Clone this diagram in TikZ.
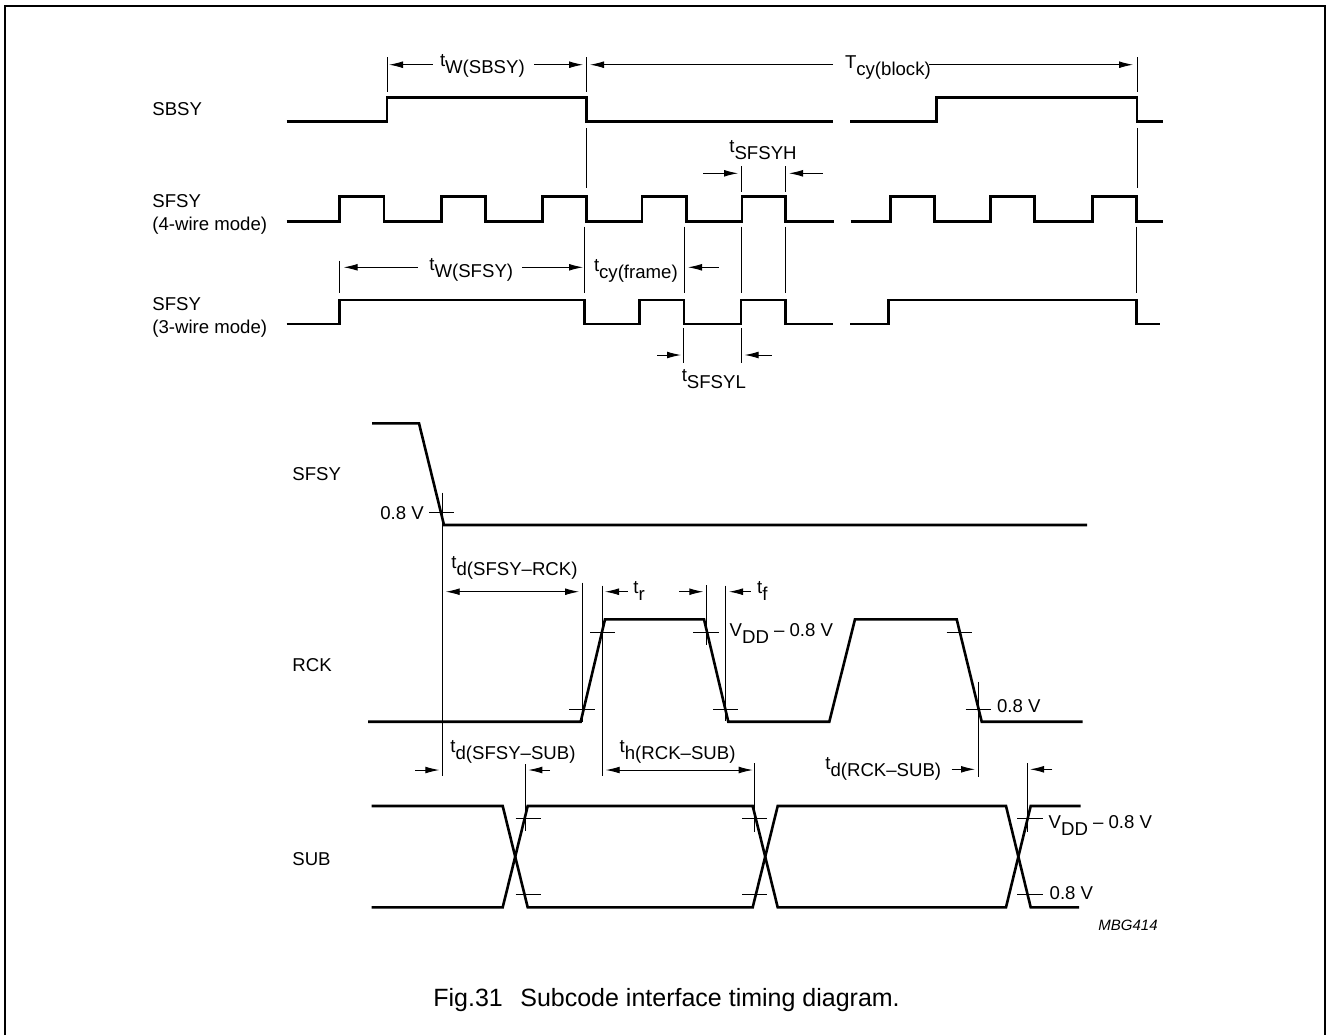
\documentclass[tikz,border=0pt]{standalone}
\usepackage{fontspec}
\setmainfont{Liberation Sans}
\usetikzlibrary{arrows.meta}
\tikzstyle{signal}=[line width=1.3pt,line join=miter]
\tikzstyle{tick}=[line width=0.45pt]
\tikzstyle{dim}=[line width=0.45pt,-{Latex[length=7pt,width=3.4pt]}]
\tikzstyle{dimboth}=[line width=0.45pt,{Latex[length=7pt,width=3.4pt]}-{Latex[length=7pt,width=3.4pt]}]
\tikzstyle{lbl}=[anchor=base west,inner sep=0pt,font=\fontsize{9.3}{10.5}\selectfont]
\newcommand{\tsub}[2]{#1\raisebox{-3.5pt}{#2}}

\begin{document}
\begin{tikzpicture}[x=0.5pt,y=-0.5pt]
\useasboundingbox (0,0) rectangle (1328,1035);
\draw[line width=1pt] (5,1035) -- (5,5.5) -- (1325,5.5) -- (1325,1035);

\node[lbl] at (152,115) (lsbsy) {SBSY};
\node[lbl] at (152,207) (lsfsya) {SFSY};
\node[lbl] at (152,230) (lfoura) {(4-wire mode)};
\node[lbl] at (152,310) (lsfsyb) {SFSY};
\node[lbl] at (152,333) (lthree) {(3-wire mode)};
\node[lbl] at (292,480) (lsfsyc) {SFSY};
\node[lbl] at (292,671) (lrck) {RCK};
\node[lbl] at (292,865) (lsub) {SUB};

\draw[signal] (286.5,121.7) -- (387,121.7) -- (387,97.7) -- (586.4,97.7) -- (586.4,121.7) -- (833,121.7);
\draw[signal] (850,121.7) -- (936.4,121.7) -- (936.4,97.7) -- (1137,97.7) -- (1137,121.7) -- (1162.5,121.7);
\draw[signal] (286.5,221.7) -- (339.6,221.7) -- (339.6,196.7) -- (384,196.7) -- (384,221.7) -- (441.4,221.7) -- (441.4,196.7) -- (485.4,196.7) -- (485.4,221.7) -- (542.5,221.7) -- (542.5,196.7) -- (586.4,196.7) -- (586.4,221.7) -- (641.8,221.7) -- (641.8,196.7) -- (686.4,196.7) -- (686.4,221.7) -- (741.8,221.7) -- (741.8,196.7) -- (785.7,196.7) -- (785.7,221.7) -- (833.6,221.7);
\draw[signal] (850.7,221.7) -- (890.7,221.7) -- (890.7,196.7) -- (934.6,196.7) -- (934.6,221.7) -- (990.7,221.7) -- (990.7,196.7) -- (1034.6,196.7) -- (1034.6,221.7) -- (1092.5,221.7) -- (1092.5,196.7) -- (1136.4,196.7) -- (1136.4,221.7) -- (1163,221.7);
\draw[signal] (286.5,324) -- (339.6,324) -- (339.6,300) -- (584.6,300) -- (584.6,324) -- (639.6,324) -- (639.6,300) -- (684,300) -- (684,324) -- (741,324) -- (741,300) -- (785.4,300) -- (785.4,324) -- (832.9,324);
\draw[signal] (850,324) -- (888.2,324) -- (888.2,300) -- (1136.4,300) -- (1136.4,324) -- (1160.4,324);
\draw[signal] (372,423.3) -- (419,423.3) -- (444,525) -- (1087,525);
\draw[signal] (368,721.7) -- (580.7,721.7) -- (605,619.3) -- (704,619.3) -- (728.3,721.7) -- (829.3,721.7) -- (855,619.3) -- (956.7,619.3) -- (981.7,721.7) -- (1082.7,721.7);
\draw[signal] (371.7,806) -- (502.7,806) -- (527.7,907.3) -- (752.7,907.3) -- (777.7,806) -- (1006,806) -- (1030.7,907.3) -- (1079,907.3);
\draw[signal] (371.7,907.3) -- (502.7,907.3) -- (527.7,806) -- (752.7,806) -- (777.7,907.3) -- (1006,907.3) -- (1030.7,806) -- (1080.7,806);

\draw[tick] (387,57.3) -- (387,91.7);
\draw[tick] (586.4,57.3) -- (586.4,91.7);
\draw[tick] (586.4,128) -- (586.4,188);
\draw[tick] (1137,57.3) -- (1137,91.7);
\draw[tick] (1137,128) -- (1137,188);
\draw[tick] (741.8,166) -- (741.8,192);
\draw[tick] (785.7,166) -- (785.7,192);
\draw[tick] (584.6,226.7) -- (584.6,293.3);
\draw[tick] (684.6,226.7) -- (684.6,293.3);
\draw[tick] (741,226.7) -- (741,293.3);
\draw[tick] (785.7,226.7) -- (785.7,293.3);
\draw[tick] (1136.4,226.7) -- (1136.4,293.3);
\draw[tick] (339.6,260.7) -- (339.6,293.3);
\draw[tick] (683.2,328) -- (683.2,363);
\draw[tick] (741,328) -- (741,363);
\draw[tick] (442,492.7) -- (442,776);
\draw[tick] (429,512.3) -- (454,512.3);
\draw[tick] (582.3,582.7) -- (582.3,721.7);
\draw[tick] (602.3,585.7) -- (602.3,776);
\draw[tick] (706,585) -- (706,645);
\draw[tick] (725.7,585.7) -- (725.7,721);
\draw[tick] (590,632.3) -- (615,632.3);
\draw[tick] (693.3,632.3) -- (719,632.3);
\draw[tick] (946.7,632.3) -- (972,632.3);
\draw[tick] (569.3,709) -- (595,709);
\draw[tick] (713.3,709) -- (738.3,709);
\draw[tick] (965.7,709) -- (990.7,709);
\draw[tick] (978.3,681.7) -- (978.3,777.3);
\draw[tick] (525.7,764) -- (525.7,830.7);
\draw[tick] (754.3,763.3) -- (754.3,831.7);
\draw[tick] (1027.7,763.3) -- (1027.7,831.7);
\draw[tick] (515.7,818.3) -- (540.7,818.3);
\draw[tick] (742.3,818.3) -- (767.3,818.3);
\draw[tick] (1017.3,818.3) -- (1042.7,818.3);
\draw[tick] (515.7,894.3) -- (540.7,894.3);
\draw[tick] (742.3,894.3) -- (767.3,894.3);
\draw[tick] (1017.3,894.3) -- (1042.7,894.3);

\draw[dim] (432.5,64.7) -- (389,64.7);
\draw[dim] (534,64.7) -- (583,64.7);
\draw[dim] (833,64.7) -- (590,64.7);
\draw[dim] (929.3,64.7) -- (1133,64.7);
\draw[dim] (703,173.3) -- (738,173.3);
\draw[dim] (822.5,173.3) -- (789,173.3);
\draw[dim] (417.5,267.3) -- (343.6,267.3);
\draw[dim] (522,267.3) -- (583,267.3);
\draw[dim] (718.6,267.3) -- (688,267.3);
\draw[dim] (657,355) -- (681,355);
\draw[dim] (771.8,355) -- (744.6,355);
\draw[dimboth] (445.7,591.7) -- (579,591.7);
\draw[dim] (627.7,591.7) -- (605,591.7);
\draw[dim] (679.3,591.7) -- (703.3,591.7);
\draw[dim] (750.7,591.7) -- (729,591.7);
\draw[dim] (415,770) -- (439.3,770);
\draw[dim] (550,770) -- (528.3,770);
\draw[dimboth] (605.7,770) -- (752.7,770);
\draw[dim] (951.7,769.3) -- (975,769.3);
\draw[dim] (1052.3,769.3) -- (1030,769.3);

\node[lbl] at (439.6,66.5) (twsbsy) {\tsub{t}{W(SBSY)}};
\node[lbl] at (844.6,68) (tcyblock) {\tsub{T}{cy(block)}};
\node[lbl] at (729,152) (tsfsyh) {\tsub{t}{SFSYH}};
\node[lbl] at (429,270) (twsfsy) {\tsub{t}{W(SFSY)}};
\node[lbl] at (593.6,271) (tcyframe) {\tsub{t}{cy(frame)}};
\node[lbl] at (681.4,381) (tsfsyl) {\tsub{t}{SFSYL}};
\node[lbl] at (380,519) (vlowa) {0.8 V};
\node[lbl] at (451,568) (tdsfsyrck) {\tsub{t}{d(SFSY–RCK)}};
\node[lbl] at (633,593) (tr) {\tsub{t}{r}};
\node[lbl] at (756.7,593) (tf) {\tsub{t}{f}};
\node[lbl] at (729.3,636.7) (vhigha) {\tsub{V}{DD} – 0.8 V};
\node[lbl] at (996.7,712) (vlowb) {0.8 V};
\node[lbl] at (450,752) (tdsfsysub) {\tsub{t}{d(SFSY–SUB)}};
\node[lbl] at (619.3,752) (thrcksub) {\tsub{t}{h(RCK–SUB)}};
\node[lbl] at (825,769.7) (tdrcksub) {\tsub{t}{d(RCK–SUB)}};
\node[lbl] at (1048.3,828.3) (vhighb) {\tsub{V}{DD} – 0.8 V};
\node[lbl] at (1049.3,899) (vlowc) {0.8 V};
\node[lbl,font=\fontsize{7.5}{9}\selectfont\itshape] at (1098,930) (code) {MBG414};
\node[lbl,font=\fontsize{12.5}{14}\selectfont] at (433,1006) (caption) {Fig.31\hspace{0.7em}Subcode interface timing diagram.};
\end{tikzpicture}
\end{document}
